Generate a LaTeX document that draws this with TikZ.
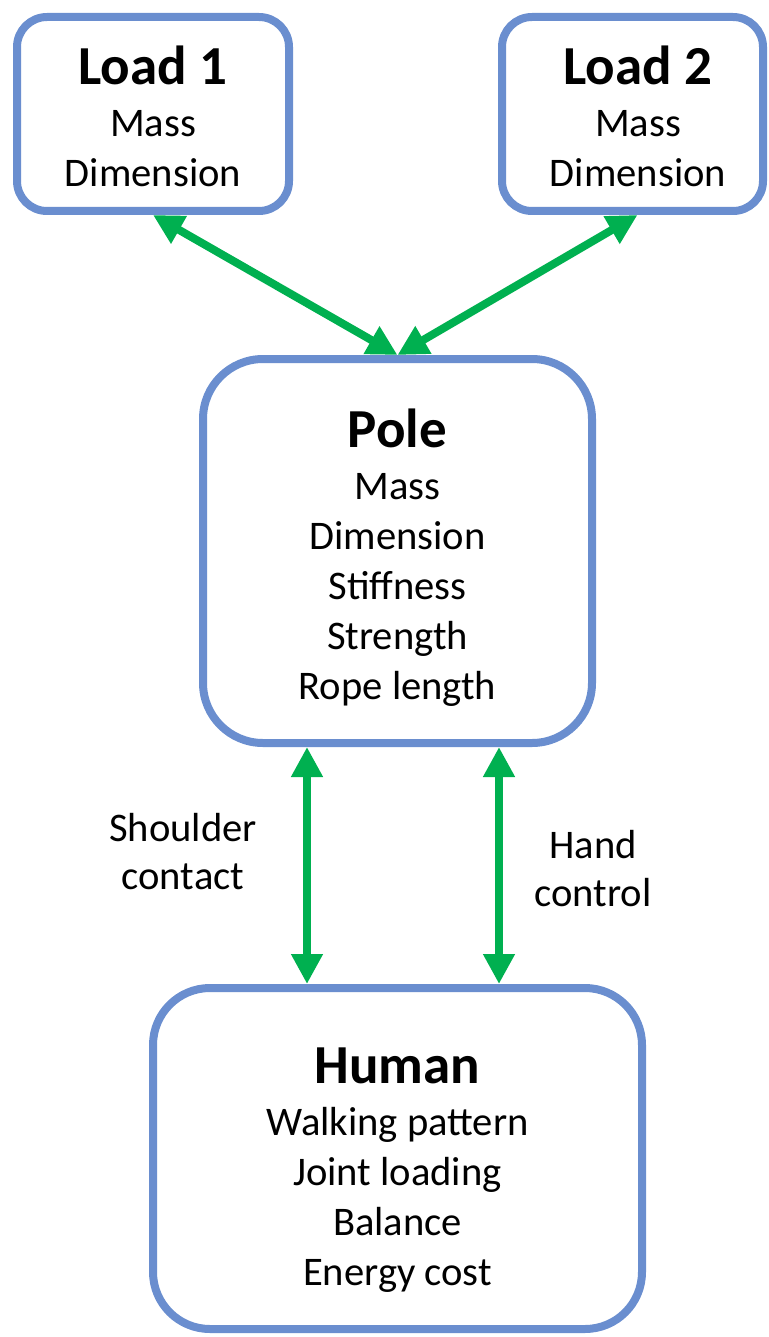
\documentclass[tikz,border=0pt]{standalone}
\usepackage{fontspec}
\setmainfont{Carlito}
\usetikzlibrary{arrows.meta,positioning}
\definecolor{boxblue}{RGB}{106,142,207}
\definecolor{linkgreen}{RGB}{0,176,80}
\newcommand{\boxhead}[1]{{\fontsize{27.5}{31}\selectfont\bfseries #1}}

\begin{document}
\begin{tikzpicture}[
  x=0.5pt, y=-0.5pt,
  box/.style={rectangle, draw=boxblue, line width=4pt, fill=white},
  boxtext/.style={align=center, inner sep=0pt, font=\fontsize{20.3}{24.9}\selectfont},
  link label/.style={align=center, inner sep=0pt, font=\fontsize{20.3}{24}\selectfont},
  link/.style={{Triangle[width=15pt,length=15pt]}-{Triangle[width=15pt,length=15pt]}, line width=4pt, draw=linkgreen}
]
  \useasboundingbox (0,0) rectangle (768,1337);

  % Boxes
  \node[box, minimum width=136pt, minimum height=97pt, rounded corners=15pt] (load1) at (153,114) {};
  \node[box, minimum width=130.5pt, minimum height=97pt, rounded corners=15pt] (load2) at (632.5,114) {};
  \node[box, minimum width=194.5pt, minimum height=192pt, rounded corners=30pt] (pole) at (397.5,551) {};
  \node[box, minimum width=244.5pt, minimum height=170.5pt, rounded corners=28.5pt] (human) at (397.5,1158.5) {};

  % Box texts
  \node[boxtext] (load1 text) at (153,116) {\boxhead{Load 1}\\[1.3pt] Mass\\ Dimension};
  \node[boxtext] (load2 text) at (638,116) {\boxhead{Load 2}\\[1.3pt] Mass\\ Dimension};
  \node[boxtext] (pole text) at (397.5,557.5) {\boxhead{Pole}\\[1.3pt] Mass\\ Dimension\\ Stiffness\\ Strength\\ Rope length};
  \node[boxtext] (human text) at (397.5,1170) {\boxhead{Human}\\[1.3pt] Walking pattern\\ Joint loading\\ Balance\\ Energy cost};

  % Interactions
  \draw[link] (load1.south) -- (pole.north);
  \draw[link] ([xshift=2.5pt]load2.south) -- (pole.north);
  \draw[link] ([xshift=-45.25pt]pole.south) -- ([xshift=-45.25pt]human.north);
  \draw[link] ([xshift=50.75pt]pole.south) -- ([xshift=50.75pt]human.north);

  \node[link label] (shoulder) at (183,852) {Shoulder\\ contact};
  \node[link label] (hand) at (593,868.5) {Hand\\ control};
\end{tikzpicture}
\end{document}
